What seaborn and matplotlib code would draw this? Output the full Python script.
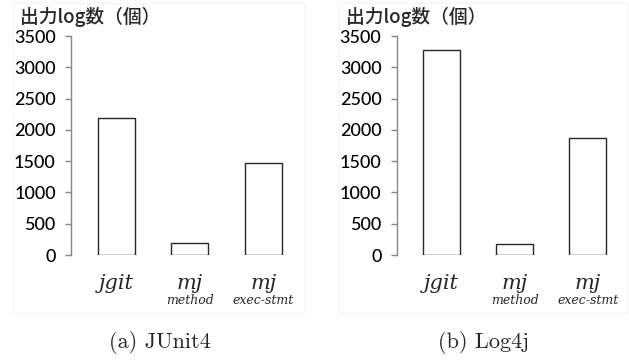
import matplotlib
matplotlib.use("Agg")
import matplotlib.pyplot as plt
from matplotlib.patches import Rectangle
import seaborn as sns
import pandas as pd

sns.set_theme(style="white")
plt.rcParams["font.family"] = ["Lato", "Noto Sans CJK JP", "DejaVu Sans"]

# Number of log lines emitted by each tool
tools = ["jgit", "mj", "mj"]
tool_variants = ["", "method", "exec-stmt"]
junit4_counts = [2190, 185, 1465]
log4j_counts = [3275, 170, 1875]

panel_titles = ["(a) JUnit4", "(b) Log4j"]
y_label = "出力log数（個）"
y_ticks = [0, 500, 1000, 1500, 2000, 2500, 3000, 3500]

W, H = 629, 360
fig = plt.figure(figsize=(W / 100, H / 100), dpi=100)

panels = [
    # axis left px, px per category, data, caption, panel box (x0, x1)
    (71, 73.5, junit4_counts, panel_titles[0], (13, 305)),
    (396.7, 73.0, log4j_counts, panel_titles[1], (339, 627)),
]

x_lo, x_hi = -0.616, 2.6
top_px, bottom_px = 36, 255

for left_px, step, counts, caption, (bx0, bx1) in panels:
    # faint chart-area frame
    fig.patches.append(Rectangle((bx0 / W, 1 - 313 / H), (bx1 - bx0) / W, 310 / H,
                                 transform=fig.transFigure, fill=False,
                                 edgecolor="#f6f6f6", linewidth=1, zorder=0))

    width_px = (x_hi - x_lo) * step
    ax = fig.add_axes([left_px / W, 1 - bottom_px / H, width_px / W, (bottom_px - top_px) / H])
    df = pd.DataFrame({"pos": [0, 1, 2], "count": counts})
    sns.barplot(data=df, x="pos", y="count", ax=ax, width=0.5,
                color="white", edgecolor="#262626", linewidth=1.0,
                saturation=1, errorbar=None)
    ax.set_xlim(x_lo, x_hi)
    ax.set_ylim(0, 3500)
    ax.set_yticks(y_ticks)
    ax.set_yticklabels([str(t) for t in y_ticks], fontsize=13, color="black",
                       weight="medium")
    ax.tick_params(axis="y", direction="out", length=4, width=1, color="#868686",
                   left=True, pad=7)
    ax.set_xticks([])
    ax.set_xlabel("")
    ax.set_ylabel("")
    for s in ["top", "right", "bottom"]:
        ax.spines[s].set_visible(False)
    ax.spines["left"].set_color("#868686")
    ax.spines["left"].set_linewidth(1)
    ax.patch.set_alpha(0)

    for i, (name, variant) in enumerate(zip(tools, tool_variants)):
        ax.text(i, -0.128, name, transform=ax.get_xaxis_transform(),
                ha="center", va="center", fontsize=15, style="italic",
                family="DejaVu Serif")
        if variant:
            ax.text(i, -0.21, variant, transform=ax.get_xaxis_transform(),
                    ha="center", va="center", fontsize=9, style="italic",
                    family="DejaVu Serif")

    fig.text((left_px - 51) / W, 1 - 17 / H, y_label, ha="left", va="center",
             fontsize=13.5, family=["Noto Sans CJK JP", "DejaVu Sans"], weight="medium")
    fig.text(((bx0 + bx1) / 2 + 1) / W, 1 - 343 / H, caption, ha="center", va="center",
             fontsize=16, family="cmr10")

fig.savefig("out.png", dpi=100)
